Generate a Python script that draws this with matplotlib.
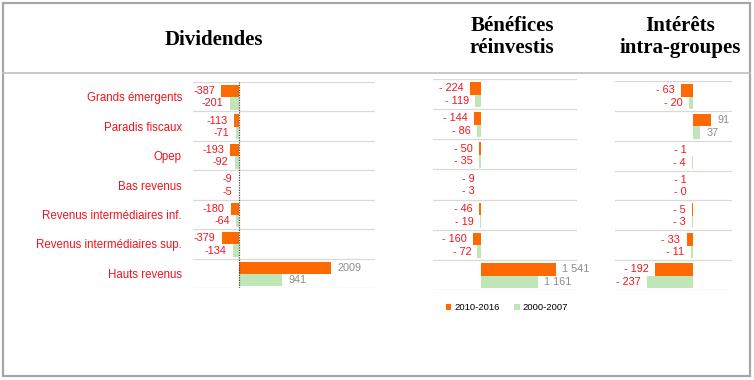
import matplotlib
matplotlib.use('Agg')
import matplotlib.pyplot as plt
import numpy as np
from matplotlib.patches import Patch, Rectangle
from matplotlib.lines import Line2D
from matplotlib import font_manager

categories = ["Grands émergents", "Paradis fiscaux", "Opep", "Bas revenus",
              "Revenus intermédiaires inf.", "Revenus intermédiaires sup.", "Hauts revenus"]
series_names = ["2010-2016", "2000-2007"]
titles = ["Dividendes", "Bénéfices\nréinvestis", "Intérêts\nintra-groupes"]

div_2010 = [-387, -113, -193, -9, -180, -379, 2009]
div_2000 = [-201, -71, -92, -5, -64, -134, 941]
ben_2010 = [-224, -144, -50, -9, -46, -160, 1541]
ben_2000 = [-119, -86, -35, -3, -19, -72, 1161]
int_2010 = [-63, 91, -1, -1, -5, -33, -192]
int_2000 = [-20, 37, -4, 0, -3, -11, -237]

ORANGE = "#FF6A00"
GREEN = "#BFE6B7"
RED = "#F0141E"
GRAY = "#8C8C8C"
GRID = "#D9D9D9"

names = {f.name for f in font_manager.fontManager.ttflist}
SANS = "Liberation Sans Narrow" if "Liberation Sans Narrow" in names else "Liberation Sans"
SERIF = "Liberation Serif"

W, H = 754, 380
fig = plt.figure(figsize=(W / 100, H / 100), dpi=100)


def rect(x0, y0, x1, y1):
    return [x0 / W, 1 - y1 / H, (x1 - x0) / W, (y1 - y0) / H]


def fmt_plain(v):
    return f"{v:d}"


def fmt_spaced(v):
    s = f"{abs(v):,}".replace(",", " ")
    return f"- {s}" if v <= 0 else s


panels = [
    dict(data=(div_2010, div_2000), pos=(193, 82, 375, 288), xlim=(-1005, 2970),
         fmt=fmt_plain, labels=True, zero=True, title=titles[0], tpos=(214, 40)),
    dict(data=(ben_2010, ben_2000), pos=(433, 79, 577, 290), xlim=(-986, 1972),
         fmt=fmt_spaced, labels=False, zero=False, title=titles[1], tpos=(512, 37)),
    dict(data=(int_2010, int_2000), pos=(615, 81, 732, 290), xlim=(-398, 199),
         fmt=fmt_spaced, labels=False, zero=False, title=titles[2], tpos=(680, 37)),
]

n = len(categories)
idx = np.arange(n)
offsets = [0.31, 0.73]
colors = [ORANGE, GREEN]
bh = 0.42

for p in panels:
    ax = fig.add_axes(rect(*p["pos"]))
    ax.set_xlim(*p["xlim"])
    ax.set_ylim(n, 0)
    for s, vals in enumerate(p["data"]):
        ys = idx + offsets[s]
        ax.barh(ys, vals, height=bh, color=colors[s], zorder=3)
        for y, v in zip(ys, vals):
            neg = v <= 0
            ax.annotate(p["fmt"](v), (v, y), xytext=(-4.5 if neg else 4.5, 0),
                        textcoords="offset points", ha="right" if neg else "left",
                        va="center", fontsize=7.8, color=RED if neg else GRAY,
                        family=[SANS, "DejaVu Sans"], zorder=4)
    ax.set_yticks(np.arange(n + 1))
    ax.set_yticklabels([])
    ax.grid(axis="y", color=GRID, lw=0.9, zorder=0)
    ax.tick_params(axis="y", which="both", length=0)
    ax.set_xticks([])
    for sp in ax.spines.values():
        sp.set_visible(False)
    if p["labels"]:
        ax.set_yticks(idx + 0.5, minor=True)
        ax.set_yticklabels(categories, minor=True, fontsize=8.3, color=RED,
                           family=[SANS, "DejaVu Sans"])
        ax.tick_params(axis="y", which="minor", pad=8)
    if p["zero"]:
        ax.axvline(0, color="#404040", ls=(0, (1, 1)), lw=0.9, zorder=5)
    fig.text(p["tpos"][0] / W, 1 - p["tpos"][1] / H, p["title"], ha="center",
             va="center", fontsize=15, fontweight="bold", family=SERIF,
             linespacing=1.1)

# legend
handles = [Patch(facecolor=c, edgecolor="none") for c in colors]
fig.legend(handles, series_names, loc="center", bbox_to_anchor=(507 / W, 1 - 308 / H),
           ncol=2, frameon=False, fontsize=6.8, handlelength=0.55, handleheight=0.55,
           handletextpad=0.3, columnspacing=1.6,
           prop={"family": [SANS, "DejaVu Sans"], "size": 6.8})

# frame and header separator
fig.patches.append(Rectangle((3 / W, 1 - 376 / H), 747 / W, 373 / H, transform=fig.transFigure,
                             fill=False, edgecolor="#A6A6A6", lw=1.6))
fig.lines.append(Line2D([3 / W, 750 / W], [1 - 73 / H, 1 - 73 / H], transform=fig.transFigure,
                        color="#BFBFBF", lw=1.2))

fig.savefig("out.png", dpi=100)
